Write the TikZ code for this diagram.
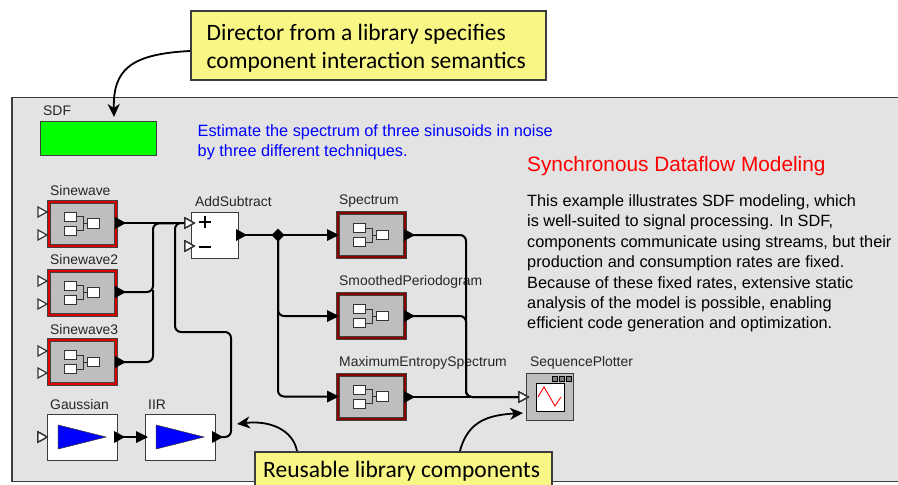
\documentclass[tikz,border=0pt]{standalone}
\usepackage{fontspec}
\setmainfont{Liberation Sans}
\newfontfamily\calloutfont{Carlito}
\usetikzlibrary{arrows.meta,shapes.geometric,calc}
\definecolor{framegray}{HTML}{E3E3E3}
\definecolor{blockgray}{HTML}{BEBEBE}
\definecolor{calloutyellow}{HTML}{F8F685}
\definecolor{edgegray}{HTML}{3C3C3C}
\tikzset{
  x=1pt,y=-1pt,
  frame/.style={draw=edgegray,line width=1.8pt,fill=framegray},
  callout/.style={draw=edgegray,line width=1.8pt,fill=calloutyellow,inner sep=0pt,anchor=north west},
  callouttext/.style={font=\calloutfont\fontsize{23.5}{28}\selectfont,align=left,anchor=base west,inner sep=0pt,text=black},
  calloutarrow/.style={line width=1.8pt,draw=black,-{Stealth[length=13pt,width=12pt,inset=4pt]}},
  actorbox/.style={draw=#1,fill=blockgray,line width=3pt,minimum width=67pt,minimum height=44pt,inner sep=0pt},
  plainbox/.style={draw=edgegray,fill=white,line width=1pt,inner sep=0pt},
  tag/.style={font=\fontsize{13.9}{15}\selectfont,anchor=base west,inner sep=0pt,text=black!85},
  bodytext/.style={font=\fontsize{16.3}{20.4}\selectfont,align=left,anchor=north west,inner sep=0pt},
  wire/.style={draw=black,line width=2pt,rounded corners=6pt},
  thinwire/.style={draw=black,line width=1.5pt,rounded corners=6pt},
  iconbox/.style={draw=black!80,fill=white,line width=.8pt},
  hollowport/.style={draw=black!80,fill=white,line width=1.2pt,line join=miter},
  solidport/.style={fill=black,draw=none},
}
\newcommand{\actoricon}[1]{%
  \begin{scope}[shift={(#1)}]
    \draw[draw=black!80,line width=.8pt] (-6,-7) -- (1,-7) -- (1,7) -- (-6,7) (1,0) -- (5,0);
    \draw[iconbox] (-18,-11.5) rectangle (-6,-2.5);
    \draw[iconbox] (-18,2.5) rectangle (-6,11.5);
    \draw[iconbox] (5,-5) rectangle (17.5,4.5);
  \end{scope}}
\newcommand{\actorblock}[4]{% name, x, y, colour
  \node[actorbox=#4] (#1) at (#2,#3) {};
  \draw[draw=black!75,line width=.7pt] ($(#1.center)+(-35,-23.5)$) rectangle ($(#1.center)+(35,23.5)$);
  \draw[draw=black!75,line width=.7pt] ($(#1.center)+(-32,-20.5)$) rectangle ($(#1.center)+(32,20.5)$);
  \actoricon{#1.center}}
\newcommand{\inport}[3]{% name, x, y : tip at x
  \coordinate (#1) at (#2,#3);
  \draw[hollowport,shift={(#1)}] (-9,-5) -- (0,0) -- (-9,5) -- cycle;}
\newcommand{\outport}[3]{% name, x, y : base at x
  \coordinate (#1) at (#2,#3);
  \fill[solidport,shift={(#1)}] (-2,-6) -- (9,0) -- (-2,6) -- cycle;}
\newcommand{\solidin}[3]{% name, x, y : tip at x
  \coordinate (#1) at (#2,#3);
  \fill[solidport,shift={(#1)}] (-11,-6) -- (1,0) -- (-11,6) -- cycle;}
\begin{document}
\begin{tikzpicture}
\path[use as bounding box,clip] (0,0) rectangle (898,485);
\fill[white] (0,0) rectangle (898,485);
% frame
\node[frame,minimum width=900pt,minimum height=384pt,inner sep=0pt,anchor=north west] (frameBox) at (11,96.5) {};
% director
\node[draw=edgegray,line width=1pt,fill=green,minimum width=116pt,minimum height=34pt,inner sep=0pt,anchor=north west] (director) at (40,121) {};
\node[tag] (sdfLabel) at (43,115.5) {SDF};
\node[bodytext,text=blue] (desc) at (197.5,124.5) {Estimate the spectrum of three sinusoids in noise\\by three different techniques.};
\node[anchor=base west,inner sep=0pt,text=red,font=\fontsize{20.8}{22}\selectfont] (title) at (527,171.7) {Synchronous Dataflow Modeling};
\node[bodytext] (body) at (527,194.5) {This example illustrates SDF modeling, which\\is well-suited to signal processing. In SDF,\\components communicate using streams, but their\\production and consumption rates are fixed.\\Because of these fixed rates, extensive static\\analysis of the model is possible, enabling\\efficient code generation and optimization.};
% source actors
\actorblock{sineA}{82}{223.5}{red!85!black}
\actorblock{sineB}{82}{292.5}{red!85!black}
\actorblock{sineC}{82}{362}{red!90!black}
\node[tag] (sineAL) at (50,195.5) {Sinewave};
\node[tag] (sineBL) at (50,264.5) {Sinewave2};
\node[tag] (sineCL) at (50,334.5) {Sinewave3};
\node[plainbox,minimum width=70pt,minimum height=46pt] (gauss) at (82,437) {};
\node[plainbox,minimum width=70pt,minimum height=46pt] (iir) at (180,437) {};
\fill[blue,draw=black!80,line width=.5pt] (58,425) -- (106,437) -- (58,449) -- cycle;
\fill[blue,draw=black!80,line width=.5pt] (156,425) -- (204,437) -- (156,449) -- cycle;
\node[tag] (gaussL) at (50,409.5) {Gaussian};
\node[tag] (iirL) at (148,409.5) {IIR};
\node[plainbox,minimum width=47pt,minimum height=46pt] (adder) at (214.5,235) {};
\node[tag] (adderL) at (195,206.5) {AddSubtract};
\draw[line width=1.6pt] (199,222) -- (211,222) (205,216) -- (205,228);
\draw[line width=2pt] (199,247) -- (211,247);
% spectrum actors
\actorblock{specA}{371}{235}{red!55!black}
\actorblock{specB}{371}{316}{red!55!black}
\actorblock{specC}{371}{396.5}{red!55!black}
\node[tag] (specAL) at (339,204.5) {Spectrum};
\node[tag] (specBL) at (339,285.5) {SmoothedPeriodogram};
\node[tag] (specCL) at (339,366) {MaximumEntropySpectrum};
% plotter
\node[draw=edgegray,line width=1pt,fill=blockgray,minimum width=47pt,minimum height=47pt,inner sep=0pt] (plotter) at (549.5,396.5) {};
\node[draw=black,line width=1pt,fill=white,minimum width=28pt,minimum height=28pt,inner sep=0pt] (screen) at (550,397) {};
\draw[red,line width=.9pt] (538,397) -- (544,387) -- (555,406) -- (561,397);
\foreach \bx in {552,559,566} \draw[draw=black,fill=black!50,line width=.6pt] (\bx,376) rectangle (\bx+5,381);
\node[tag] (plotterL) at (530,366) {SequencePlotter};
% ports
\foreach \pn/\py in {a/212,b/235,c/281,d/304,e/351,f/373} \inport{in\pn}{47}{\py}
\inport{gaussIn}{47}{437}
\inport{addPlus}{194}{223}
\inport{addMinus}{194}{246}
\inport{plotIn}{528}{397}
\coordinate (splitDot) at (278,235);
% connectors
\draw[thinwire] (117,223) coordinate (sineAOut) -- (addPlus);
\draw[wire] (117,292) coordinate (sineBOut) -- (153,292) -- (153,223.5) -- (addPlus);
\draw[wire] (117,362) coordinate (sineCOut) -- (153,362) -- (153,290);
\draw[wire] (215,437) coordinate (iirOut) -- (231,437) -- (231,332) -- (175,332) -- (175,223) -- (178,223);
\draw[wire] (115,437) coordinate (gaussOut) -- (iir.west);
\draw[wire] (238,235) coordinate (addOut) -- (splitDot);
\draw[wire] (splitDot) -- (specA.west);
\draw[wire] (splitDot) -- (278,316) -- (specB.west);
\draw[wire] (splitDot) -- (278,396.5) -- (specC.west);
\draw[wire] (406,235) coordinate (specAOut) -- (466,235) -- (466,397) -- (plotIn);
\draw[wire] (406,316) coordinate (specBOut) -- (466,316) -- (466,397) -- (plotIn);
\draw[thinwire] (406,397) coordinate (specCOut) -- (plotIn);
\inport{addPlusTop}{194}{223}
\inport{plotInTop}{528}{397}
% solid ports
\outport{pa}{117}{223}\outport{pb}{117}{292}\outport{pc}{117}{362}
\outport{pd}{116}{437}\outport{pe}{214}{437}\outport{pf}{238}{235}
\outport{pg}{406}{235}\outport{ph}{406}{316}\outport{pi}{406}{397}
\solidin{qa}{147}{437}\solidin{qb}{338}{235}\solidin{qc}{338}{316}\solidin{qd}{338}{396.5}
\fill (splitDot) +(-6.5,0) -- +(0,-6.5) -- +(6.5,0) -- +(0,6.5) -- cycle;
% callouts
\node[callout,minimum width=355pt,minimum height=69pt] (topCallout) at (190,10) {};
\node[callouttext] (topLineA) at (206.5,40) {Director from a library specifies};
\node[callouttext] (topLineB) at (206.5,68) {component interaction semantics};
\node[callout,minimum width=297pt,minimum height=50pt] (botCallout) at (254,451) {};
\node[callouttext] (botLine) at (263,477) {Reusable library components};
\draw[calloutarrow] (topCallout.west|-0,51) .. controls (130,54) and (113,70) .. (114,117);
\draw[calloutarrow] (297,451) .. controls (293,430) and (270,420) .. (237,424);
\draw[calloutarrow] (460,451) .. controls (468,420) and (490,415) .. (523,413);
\end{tikzpicture}
\end{document}
